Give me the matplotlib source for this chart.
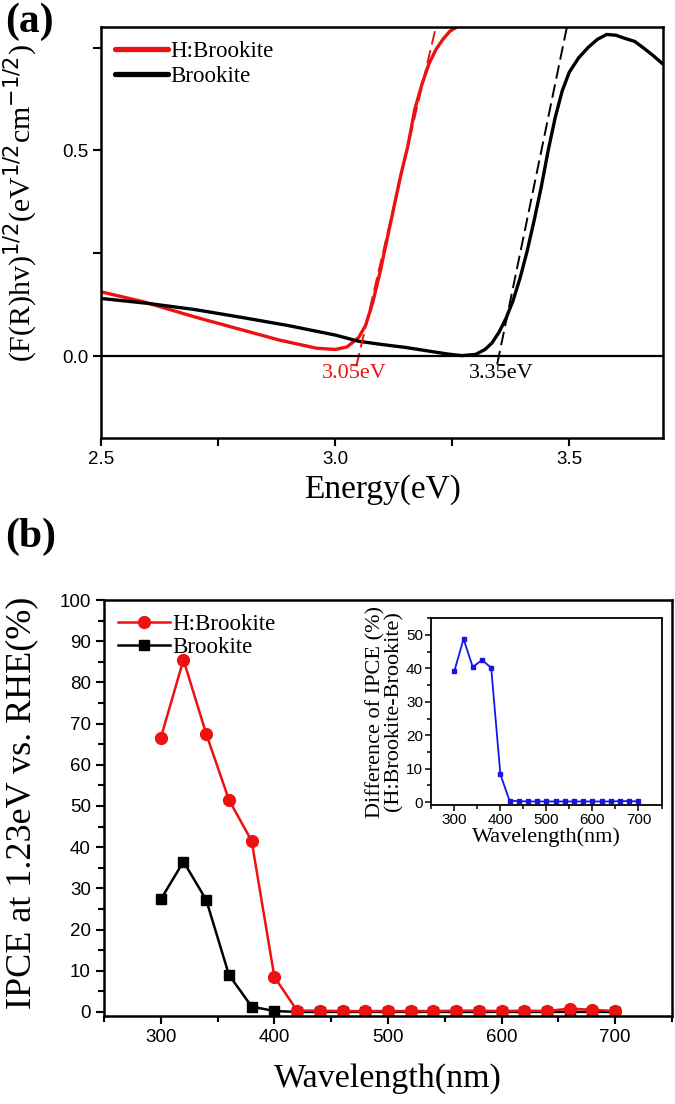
import matplotlib.pyplot as plt
from matplotlib.ticker import MultipleLocator

plt.rcParams['font.family'] = 'Liberation Sans'
SERIF = 'Liberation Serif'

# ---- panel (a): Kubelka-Munk plot ----
E_hb = [2.50, 2.59, 2.70, 2.79, 2.88, 2.96, 3.00, 3.025, 3.05, 3.065, 3.08, 3.095,
        3.11, 3.125, 3.14, 3.155, 3.17, 3.185, 3.20, 3.215, 3.23, 3.245, 3.26]
F_hb = [0.156, 0.132, 0.095, 0.067, 0.039, 0.019, 0.016, 0.022, 0.045, 0.075, 0.13, 0.20,
        0.28, 0.36, 0.44, 0.51, 0.60, 0.66, 0.71, 0.745, 0.77, 0.79, 0.80]
E_b = [2.50, 2.60, 2.70, 2.80, 2.90, 3.00, 3.05, 3.10, 3.15, 3.20, 3.24, 3.27, 3.30,
       3.32, 3.335, 3.35, 3.365, 3.38, 3.395, 3.41, 3.425, 3.44, 3.455, 3.47, 3.485,
       3.50, 3.52, 3.54, 3.56, 3.58, 3.60, 3.62, 3.64, 3.66, 3.68, 3.70]
F_b = [0.140, 0.128, 0.113, 0.094, 0.074, 0.051, 0.036, 0.028, 0.021, 0.012, 0.005,
       0.001, 0.004, 0.016, 0.032, 0.058, 0.092, 0.135, 0.19, 0.255, 0.33, 0.41, 0.50,
       0.58, 0.645, 0.69, 0.725, 0.75, 0.77, 0.782, 0.78, 0.772, 0.765, 0.748, 0.73, 0.71]
tan_hb_E = [3.045, 3.215]
tan_hb_F = [-0.025, 0.80]
tan_b_E = [3.346, 3.495]
tan_b_F = [-0.02, 0.80]

# ---- panel (b): IPCE ----
wl = [300, 320, 340, 360, 380, 400, 420, 440, 460, 480, 500, 520, 540, 560, 580,
      600, 620, 640, 660, 680, 700]
ipce_hb = [66.5, 85.5, 67.5, 51.5, 41.5, 8.5, 0.3, 0.3, 0.2, 0.2, 0.2, 0.2, 0.2, 0.3,
           0.3, 0.2, 0.3, 0.2, 0.8, 0.5, 0.2]
ipce_b = [27.3, 36.5, 27.2, 9.0, 1.3, 0.2, 0.0, 0.0, 0.0, 0.0, 0.0, 0.0, 0.0, 0.0,
          0.0, 0.0, 0.0, 0.0, 0.0, 0.0, 0.0]
diff = [39.2, 48.8, 40.4, 42.5, 40.2, 8.3, 0.4, 0.3, 0.2, 0.2, 0.2, 0.2, 0.2, 0.2,
        0.2, 0.2, 0.2, 0.2, 0.3, 0.3, 0.2]

RED = '#ee1111'
BLUE = '#1515e6'

fig = plt.figure(figsize=(6.75, 11.04), dpi=100)


def style(ax, size=13.5, w=1.8):
    for s in ax.spines.values():
        s.set_linewidth(w)
    ax.tick_params(which='both', direction='out', width=w * 0.85, labelsize=size,
                   top=False, right=False)
    ax.tick_params(which='major', length=6)
    ax.tick_params(which='minor', length=6)


# (a)
ax1 = fig.add_axes([0.150, 0.603, 0.832, 0.3725])
ax1.plot(E_hb, F_hb, color=RED, lw=2.4, solid_capstyle='round')
ax1.plot(E_b, F_b, color='black', lw=2.4, solid_capstyle='round')
ax1.plot(tan_hb_E, tan_hb_F, color=RED, lw=1.4, ls=(0, (7, 3)))
ax1.plot(tan_b_E, tan_b_F, color='black', lw=1.4, ls=(0, (7, 3)))
ax1.axhline(0, color='black', lw=1.6)
ax1.set_xlim(2.5, 3.7)
ax1.set_ylim(-0.2, 0.8)
ax1.xaxis.set_major_locator(MultipleLocator(0.5))
ax1.xaxis.set_minor_locator(MultipleLocator(0.25))
ax1.yaxis.set_major_locator(MultipleLocator(0.5))
ax1.yaxis.set_minor_locator(MultipleLocator(0.25))
ax1.yaxis.set_major_formatter(lambda v, p: f'{v:.1f}')
style(ax1)
ax1.text(3.04, -0.042, '3.05eV', color=RED, fontsize=16, family=SERIF,
         ha='center', va='center')
ax1.text(3.355, -0.042, '3.35eV', color='black', fontsize=16, family=SERIF,
         ha='center', va='center')
ax1.set_xlabel('Energy(eV)', family=SERIF, fontsize=24, labelpad=4)
ax1.set_ylabel(r'(F(R)hv)$^{1/2}$(eV$^{1/2}$cm$^{-1/2}$)', family=SERIF,
               fontsize=21.5)
ax1.yaxis.set_label_coords(-0.109, 0.572)
leg = ax1.legend(['H:Brookite', 'Brookite'], loc='upper left', frameon=False,
                 prop={'family': SERIF, 'size': 16.5}, handlelength=2.3,
                 handletextpad=0.1, borderaxespad=0.2, labelspacing=0.2)
for h in leg.get_lines():
    h.set_linewidth(3.8)

# (b)
ax2 = fig.add_axes([0.154, 0.0797, 0.8416, 0.3768])
ax2.plot(wl, ipce_b, color='black', lw=1.8, marker='s', ms=7, label='Brookite')
ax2.plot(wl, ipce_hb, color=RED, lw=1.8, marker='o', ms=8.5, label='H:Brookite')
ax2.set_xlim(250, 750)
ax2.set_ylim(-1, 100)
ax2.xaxis.set_major_locator(MultipleLocator(100))
ax2.xaxis.set_minor_locator(MultipleLocator(50))
ax2.yaxis.set_major_locator(MultipleLocator(10))
ax2.yaxis.set_minor_locator(MultipleLocator(5))
style(ax2)
ax2.tick_params(which='minor', length=4)
ax2.set_xlabel('Wavelength(nm)', family=SERIF, fontsize=24.5, labelpad=12)
ax2.set_ylabel('IPCE at 1.23eV vs. RHE(%)', family=SERIF, fontsize=26)
ax2.yaxis.set_label_coords(-0.116, 0.512)
h, l = ax2.get_legend_handles_labels()
ax2.legend(h[::-1], l[::-1], loc='upper left', frameon=False,
           prop={'family': SERIF, 'size': 16.5}, handlelength=2.3,
           handletextpad=0.1, borderaxespad=0.2, labelspacing=0.1)

# inset
ax3 = fig.add_axes([0.639, 0.271, 0.341, 0.169])
ax3.plot(wl, diff, color=BLUE, lw=1.3, marker='s', ms=3)
ax3.set_xlim(250, 750)
ax3.set_ylim(-0.8, 55)
ax3.xaxis.set_major_locator(MultipleLocator(100))
ax3.xaxis.set_minor_locator(MultipleLocator(50))
ax3.yaxis.set_major_locator(MultipleLocator(10))
ax3.yaxis.set_minor_locator(MultipleLocator(5))
style(ax3, size=11, w=1.3)
ax3.tick_params(which='major', length=4)
ax3.tick_params(which='minor', length=3)
ax3.tick_params(axis='both', pad=2)
ax3.set_xlabel('Wavelength(nm)', family=SERIF, fontsize=16, labelpad=0)
ax3.set_ylabel('Difference of IPCE (%)\n(H:Brookite-Brookite)', family=SERIF,
               fontsize=16, labelpad=2, linespacing=0.9)

fig.text(0.008, 0.998, '(a)', family=SERIF, fontsize=30, fontweight='bold',
         va='top', ha='left')
fig.text(0.008, 0.531, '(b)', family=SERIF, fontsize=30, fontweight='bold',
         va='top', ha='left')

fig.savefig('out.png', dpi=100)
